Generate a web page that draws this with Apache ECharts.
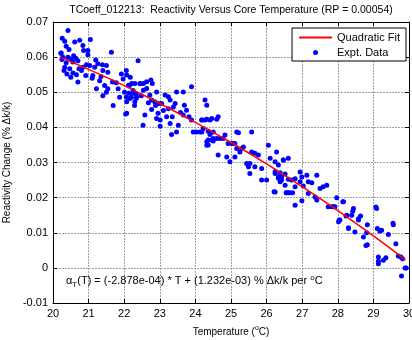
<!DOCTYPE html>
<html>
<head>
<meta charset="utf-8">
<script src="https://cdn.jsdelivr.net/npm/echarts@6/dist/echarts.min.js"></script>
<style>
  html, body { margin: 0; padding: 0; background: #fff; }
  #my-charts { width: 412px; height: 340px; }
</style>
</head>
<body>
<div id="my-charts"></div>
<script>
// 测量数据 (temperature, reactivity change)
var exptTemp = [
  20.42, 20.26, 20.33, 20.37, 20.45, 20.23, 20.61, 20.75, 20.84, 20.86, 20.98, 21.05, 20.98, 20.28, 20.42,
  20.51, 20.64, 20.70, 20.56, 20.37, 20.33, 20.47, 20.39, 20.56, 20.66, 20.73, 20.84, 20.94, 20.92, 20.70,
  21.03, 21.17, 21.12, 21.26, 21.39, 21.50, 21.40, 21.54, 21.64, 21.31, 21.22, 21.45, 21.54, 21.67, 21.78,
  21.92, 21.97, 21.83, 22.06, 22.17, 22.15, 22.25, 22.34, 22.39, 22.45, 22.01, 22.06, 22.20, 22.34, 21.87,
  21.69, 21.40, 21.50, 22.04, 22.29, 22.48, 20.22, 20.25, 20.31, 20.50, 20.58, 20.80, 21.10, 21.20, 21.35,
  22.07, 22.12, 22.21, 22.30, 22.44, 22.54, 22.63, 22.75, 22.79, 22.13, 22.26, 22.35, 22.16, 22.07, 22.30,
  22.07, 22.54, 22.63, 22.72, 22.77, 22.86, 22.91, 22.96, 23.05, 23.15, 23.24, 23.29, 23.43, 23.47, 23.66,
  23.24, 23.38, 22.58, 22.77, 22.91, 23.01, 23.01, 23.19, 23.29, 23.33, 23.47, 23.52, 23.69, 23.75, 23.66,
  23.82, 23.89, 24.03, 23.94, 24.13, 24.18, 24.27, 24.27, 24.32, 24.41, 24.32, 24.36, 24.46, 24.50, 23.89,
  22.53, 22.88, 23.10, 23.35, 23.58, 22.68, 22.95,
  24.18, 24.32, 24.46, 24.60, 24.64, 24.22, 24.18, 24.36, 24.41, 24.36, 24.32, 24.50, 24.50, 24.60, 24.69,
  24.78, 24.83, 24.92, 25.02, 25.07, 25.11, 25.16, 25.21, 25.16, 25.25, 25.30, 25.35, 25.11, 24.88, 24.64,
  24.97, 25.44, 25.53, 25.58, 25.67, 25.77, 25.58, 25.49, 25.67, 25.53, 25.86, 25.86, 26.00, 26.05, 26.10,
  26.28, 26.33, 26.24, 26.33, 26.42, 26.47, 26.61, 26.38, 26.24, 26.56, 26.61, 26.52,
  26.24, 26.47, 26.24, 26.33, 26.38, 26.52, 26.42, 26.61, 26.70, 26.80, 26.94, 26.99, 27.13, 27.41, 27.17,
  27.27, 27.03, 26.94, 26.80, 26.21, 26.55, 26.64, 26.73, 27.17, 27.36, 27.41, 27.50, 27.59, 27.69, 26.80,
  26.99, 27.73, 27.83, 27.92, 27.97, 28.14, 28.02, 28.06, 28.25, 28.39, 28.44, 28.30, 28.48, 28.58,
  28.16, 27.88, 28.04, 28.23, 28.42, 28.64, 28.58, 28.30, 28.83, 29.09, 28.81, 28.72, 28.83, 28.79, 29.11,
  29.23, 29.42, 29.56, 29.63, 29.14, 29.14, 29.14, 29.28, 29.35, 29.70, 29.77, 29.82, 29.89, 29.92, 29.79,
  29.55, 29.07, 29.18
];
var exptReact = [
  0.0676, 0.0654, 0.0645, 0.0631, 0.0622, 0.0612, 0.0643, 0.0648, 0.0633, 0.0619, 0.0619, 0.0650, 0.0607, 0.0600, 0.0600,
  0.0595, 0.0597, 0.0590, 0.0586, 0.0584, 0.0571, 0.0567, 0.0552, 0.0555, 0.0550, 0.0567, 0.0571, 0.0578, 0.0548, 0.0529,
  0.0576, 0.0571, 0.0548, 0.0581, 0.0578, 0.0576, 0.0562, 0.0557, 0.0614, 0.0533, 0.0510, 0.0519, 0.0510, 0.0529, 0.0527,
  0.0552, 0.0538, 0.0510, 0.0562, 0.0543, 0.0519, 0.0505, 0.0495, 0.0590, 0.0524, 0.0500, 0.0486, 0.0486, 0.0483, 0.0486,
  0.0462, 0.0490, 0.0500, 0.0438, 0.0462, 0.0490, 0.0611, 0.0593, 0.0562, 0.0543, 0.0604, 0.0562, 0.0540, 0.0592, 0.0545,
  0.0549, 0.0520, 0.0525, 0.0525, 0.0525, 0.0525, 0.0530, 0.0535, 0.0525, 0.0497, 0.0497, 0.0487, 0.0482, 0.0473, 0.0473,
  0.0440, 0.0506, 0.0511, 0.0492, 0.0478, 0.0473, 0.0501, 0.0468, 0.0468, 0.0492, 0.0487, 0.0478, 0.0468, 0.0501, 0.0501,
  0.0453, 0.0458, 0.0435, 0.0451, 0.0425, 0.0421, 0.0403, 0.0430, 0.0411, 0.0380, 0.0387, 0.0406, 0.0463, 0.0449, 0.0435,
  0.0430, 0.0421, 0.0387, 0.0387, 0.0387, 0.0421, 0.0421, 0.0478, 0.0463, 0.0421, 0.0359, 0.0350, 0.0364, 0.0387, 0.0516,
  0.0406, 0.0462, 0.0448, 0.0430, 0.0442, 0.0470, 0.0440,
  0.0421, 0.0423, 0.0425, 0.0423, 0.0430, 0.0397, 0.0387, 0.0389, 0.0380, 0.0364, 0.0349, 0.0368, 0.0361, 0.0368, 0.0368,
  0.0368, 0.0378, 0.0354, 0.0354, 0.0354, 0.0354, 0.0387, 0.0385, 0.0340, 0.0330, 0.0340, 0.0344, 0.0316, 0.0316, 0.0321,
  0.0302, 0.0297, 0.0297, 0.0330, 0.0326, 0.0321, 0.0387, 0.0288, 0.0288, 0.0269, 0.0283, 0.0250, 0.0250, 0.0349, 0.0312,
  0.0330, 0.0293, 0.0274, 0.0255, 0.0259, 0.0307, 0.0312, 0.0245, 0.0216, 0.0214, 0.0214, 0.0235,
  0.0302, 0.0307, 0.0269, 0.0259, 0.0271, 0.0267, 0.0250, 0.0252, 0.0250, 0.0254, 0.0273, 0.0259, 0.0264, 0.0264, 0.0245,
  0.0242, 0.0233, 0.0245, 0.0231, 0.0217, 0.0214, 0.0214, 0.0214, 0.0212, 0.0202, 0.0193, 0.0226, 0.0231, 0.0235, 0.0178,
  0.0191, 0.0174, 0.0174, 0.0174, 0.0200, 0.0188, 0.0131, 0.0136, 0.0150, 0.0150, 0.0169, 0.0112, 0.0102, 0.0140,
  0.0188, 0.0174, 0.0136, 0.0148, 0.0161, 0.0148, 0.0136, 0.0114, 0.0123, 0.0169, 0.0100, 0.0088, 0.0066, 0.0064, 0.0112,
  0.0107, 0.0095, 0.0123, 0.0069, 0.0031, 0.0019, 0.0012, 0.0022, 0.0029, 0.0034, 0.0031, 0.0026, 0.0000, 0.0000, -0.0023,
  0.0127, 0.0173, 0.0105
];
// 二次拟合曲线
var fitTemp = [20.2, 21, 22, 23, 24, 25, 26, 27, 28, 29, 29.9];
var fitReact = [0.0600, 0.0565, 0.0519, 0.0468, 0.0414, 0.0357, 0.0296, 0.0231, 0.0163, 0.0091, 0.0023];
var yTicks = ['-0.01', '0', '0.01', '0.02', '0.03', '0.04', '0.05', '0.06', '0.07'];

var FONT = 'Liberation Sans, Arial, sans-serif';

var myChart = echarts.init(document.getElementById('my-charts'), null, { renderer: 'canvas' });

var exptPoints = exptTemp.map(function (t, i) { return [t, exptReact[i]] });
var fitPoints = fitTemp.map(function (t, i) { return [t, fitReact[i]] });

var axisCommon = {
  type: 'value',
  axisLine: { show: true, onZero: false, lineStyle: { color: '#000', width: 1 } },
  axisTick: { show: true, inside: true, length: 4, lineStyle: { color: '#000' } },
  splitLine: { show: false }
};

var option = {
  backgroundColor: '#fff',
  animation: false,
  textStyle: { fontFamily: FONT },
  grid: { left: 53, top: 22, width: 356, height: 281, containLabel: false, outerBoundsMode: 'none' },
  legend: {
    orient: 'vertical',
    right: 6,
    top: 28,
    itemWidth: 33,
    itemHeight: 5,
    itemGap: 4,
    padding: [4, 6, 3, 6],
    backgroundColor: '#fff',
    borderColor: '#000',
    borderWidth: 1,
    borderRadius: 0,
    textStyle: { fontFamily: FONT, fontSize: 11, color: '#000' },
    data: [
      { name: 'Quadratic Fit', itemStyle: { opacity: 0 } },
      { name: 'Expt. Data', icon: 'circle' }
    ]
  },
  xAxis: [
    Object.assign({}, axisCommon, {
      min: 20, max: 30, interval: 1,
      position: 'bottom',
      axisLabel: { color: '#000', fontSize: 11, fontFamily: FONT, margin: 5 },
      splitLine: { show: true, lineStyle: { color: '#a0a0a0', width: 1, type: [2, 1] } },
      name: 'Temperature ({sup|o}C)',
      nameLocation: 'middle',
      nameGap: 22,
      nameTextStyle: {
        color: '#000', fontSize: 10, fontFamily: FONT,
        rich: { sup: { fontSize: 7, fontFamily: FONT, color: '#000', padding: [0, 0, 8, 0] } }
      }
    }),
    Object.assign({}, axisCommon, {
      min: 20, max: 30, interval: 1,
      position: 'top',
      axisLabel: { show: false }
    })
  ],
  yAxis: [
    Object.assign({}, axisCommon, {
      min: -0.01, max: 0.07, interval: 0.01,
      position: 'left',
      axisLabel: {
        color: '#000', fontSize: 11, fontFamily: FONT, margin: 5,
        formatter: function (v) { return yTicks[Math.round((v + 0.01) * 100)] }
      },
      splitLine: { show: true, lineStyle: { color: '#a0a0a0', width: 1, type: [2, 1] } },
      name: 'Reactivity Change (% Δk/k)',
      nameLocation: 'middle',
      nameGap: 38,
      nameTextStyle: { color: '#000', fontSize: 10, fontFamily: FONT }
    }),
    Object.assign({}, axisCommon, {
      min: -0.01, max: 0.07, interval: 0.01,
      position: 'right',
      axisLabel: { show: false }
    })
  ],
  graphic: [
    {
      type: 'text', x: 231, y: 10,
      style: {
        text: 'TCoeff_012213:  Reactivity Versus Core Temperature (RP = 0.00054)',
        fill: '#000', font: '10.5px ' + FONT, align: 'center', verticalAlign: 'middle'
      }
    },
    {
      type: 'text', x: 66, y: 281, z: 100,
      style: {
        text: '{a|α}{sub|T}{a|(T) = (-2.878e-04) * T + (1.232e-03) % Δk/k per }{sup|o}{a|C}',
        verticalAlign: 'middle',
        rich: {
          a: { fontSize: 11, fontFamily: FONT, fill: '#000' },
          sub: { fontSize: 8, fontFamily: FONT, fill: '#000', padding: [7, 0, 0, 0] },
          sup: { fontSize: 8, fontFamily: FONT, fill: '#000', padding: [0, 0, 7, 0] }
        }
      }
    }
  ],
  series: [
    {
      name: 'Expt. Data',
      type: 'scatter',
      data: exptPoints,
      symbol: 'circle',
      symbolSize: 5,
      itemStyle: { color: '#0000ff', opacity: 1 },
      z: 2
    },
    {
      name: 'Quadratic Fit',
      type: 'line',
      data: fitPoints,
      smooth: true,
      symbol: 'none',
      lineStyle: { color: '#ff0000', width: 1.5 },
      itemStyle: { color: '#ff0000' },
      z: 3
    }
  ]
};

myChart.setOption(option);
</script>
</body>
</html>
